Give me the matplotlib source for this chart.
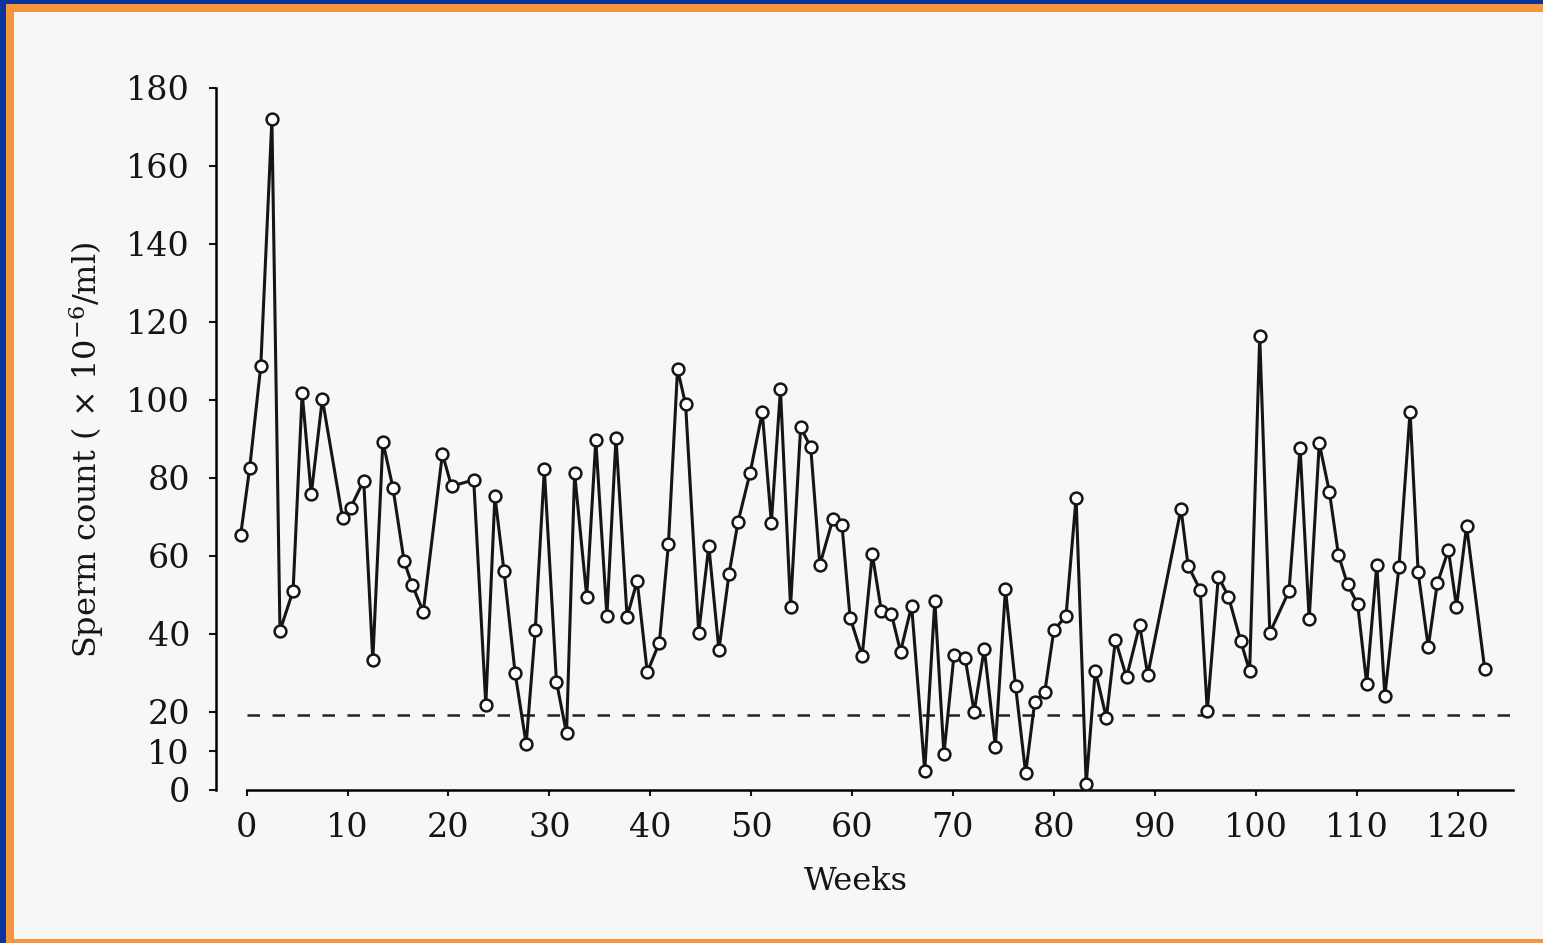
import matplotlib
matplotlib.use('Agg')
import matplotlib.pyplot as plt
import matplotlib.patches as patches

# 週ごとの精子数
weeks = [-0.6, 0.3, 1.4, 2.5, 3.3, 4.6, 5.5, 6.4, 7.5, 9.5, 10.3, 11.6, 12.5, 13.5,
         14.5, 15.6, 16.4, 17.5, 19.4, 20.3, 22.5, 23.7, 24.6, 25.5, 26.6, 27.7,
         28.6, 29.5, 30.7, 31.7, 32.5, 33.7, 34.6, 35.7, 36.6, 37.7, 38.7, 39.7,
         40.9, 41.8, 42.7, 43.5, 44.8, 45.8, 46.8, 47.8, 48.7, 49.9, 51.1, 52.0,
         52.9, 53.9, 54.9, 55.9, 56.8, 58.1, 59.0, 59.8, 61.0, 62.0, 62.9, 63.9,
         64.8, 65.9, 67.2, 68.2, 69.1, 70.1, 71.2, 72.1, 73.1, 74.2, 75.2, 76.2,
         77.2, 78.1, 79.1, 80.0, 81.2, 82.2, 83.2, 84.1, 85.2, 86.1, 87.2, 88.5,
         89.3, 92.6, 93.3, 94.5, 95.2, 96.3, 97.3, 98.5, 99.4, 100.4, 101.4, 103.3,
         104.4, 105.3, 106.3, 107.3, 108.2, 109.1, 110.1, 111.0, 112.0, 112.8,
         114.2, 115.3, 116.1, 117.1, 118.0, 119.1, 119.9, 120.9, 122.7]
counts = [65.3, 82.6, 108.8, 172.0, 40.8, 51.1, 101.7, 75.8, 100.3, 69.8, 72.4, 79.3,
          33.3, 89.3, 77.4, 58.7, 52.6, 45.7, 86.2, 77.9, 79.5, 21.8, 75.4, 56.2,
          30.1, 11.8, 41.0, 82.2, 27.8, 14.5, 81.2, 49.6, 89.7, 44.6, 90.3, 44.4,
          53.6, 30.2, 37.8, 63.1, 107.9, 98.9, 40.3, 62.6, 35.9, 55.3, 68.8, 81.4,
          96.8, 68.5, 102.7, 47.0, 93.0, 87.9, 57.7, 69.5, 67.9, 44.2, 34.4, 60.5,
          45.9, 45.1, 35.5, 47.2, 4.9, 48.5, 9.2, 34.6, 33.8, 20.1, 36.2, 11.1,
          51.5, 26.7, 4.3, 22.5, 25.2, 41.0, 44.6, 74.9, 1.5, 30.6, 18.5, 38.5,
          28.9, 42.3, 29.5, 72.1, 57.5, 51.3, 20.3, 54.7, 49.6, 38.3, 30.5, 116.4,
          40.3, 51.0, 87.8, 43.8, 88.9, 76.5, 60.3, 52.7, 47.7, 27.2, 57.7, 24.1,
          57.3, 97.0, 55.8, 36.7, 53.0, 61.5, 47.0, 67.7, 30.9]
threshold = 19.3

x_ticks = list(range(0, 121, 10))
y_ticks = [0, 10, 20, 40, 60, 80, 100, 120, 140, 160, 180]

W, H = 1543, 943
bg = '#f7f7f5'
ink = '#151515'
plt.rcParams['font.family'] = ['DejaVu Serif']
plt.rcParams['mathtext.fontset'] = 'dejavuserif'

fig = plt.figure(figsize=(W / 100, H / 100), dpi=100, facecolor=bg)

# 枠 (青と橙) をピクセル単位で描く
def px_rect(x, y, w, h, color):
    fig.add_artist(patches.Rectangle((x / W, 1 - (y + h) / H), w / W, h / H,
                                     transform=fig.transFigure, facecolor=color,
                                     edgecolor='none', zorder=-10))
px_rect(0, 0, 6, H, '#0a3499')
px_rect(0, 0, W, 4, '#0a3499')
px_rect(6, 4, 8, H - 4, '#f5963f')
px_rect(6, 4, W - 6, 8, '#f5963f')
px_rect(6, 939, W - 6, 4, '#f5963f')

ax = fig.add_axes([216.4 / W, 153 / H, (1513 - 216.4) / W, (790 - 88) / H])
ax.set_facecolor(bg)
ax.set_xlim(-3, 125.5)
ax.set_ylim(0, 180)

ax.plot(weeks, counts, color=ink, lw=2.2, marker='o', ms=8.5,
        mfc='white', mec=ink, mew=1.8, zorder=3)
ax.plot([0, 125.5], [threshold, threshold], color='#222222', lw=1.8,
        dashes=(5, 5), zorder=2)

for s in ['top', 'right']:
    ax.spines[s].set_visible(False)
ax.spines['left'].set_bounds(0, 180)
ax.spines['bottom'].set_bounds(0, 125.5)
ax.spines['left'].set_linewidth(1.8)
ax.spines['bottom'].set_linewidth(1.8)

ax.set_xticks(x_ticks)
ax.set_yticks(y_ticks)
ax.tick_params(axis='both', direction='out', width=1.5, labelsize=24, colors=ink)
ax.tick_params(axis='x', length=4, pad=12)
ax.tick_params(axis='y', length=5, pad=14)

ax.set_xlabel('Weeks', fontsize=23, color=ink)
ax.set_ylabel(r'Sperm count ( $\times$ 10$^{-6}$/ml)', fontsize=23, color=ink)
ax.xaxis.set_label_coords(0.493, -0.108)
ax.yaxis.set_label_coords(-0.085, 0.484)

plt.savefig('out.png', dpi=100, facecolor=bg)
plt.close()
